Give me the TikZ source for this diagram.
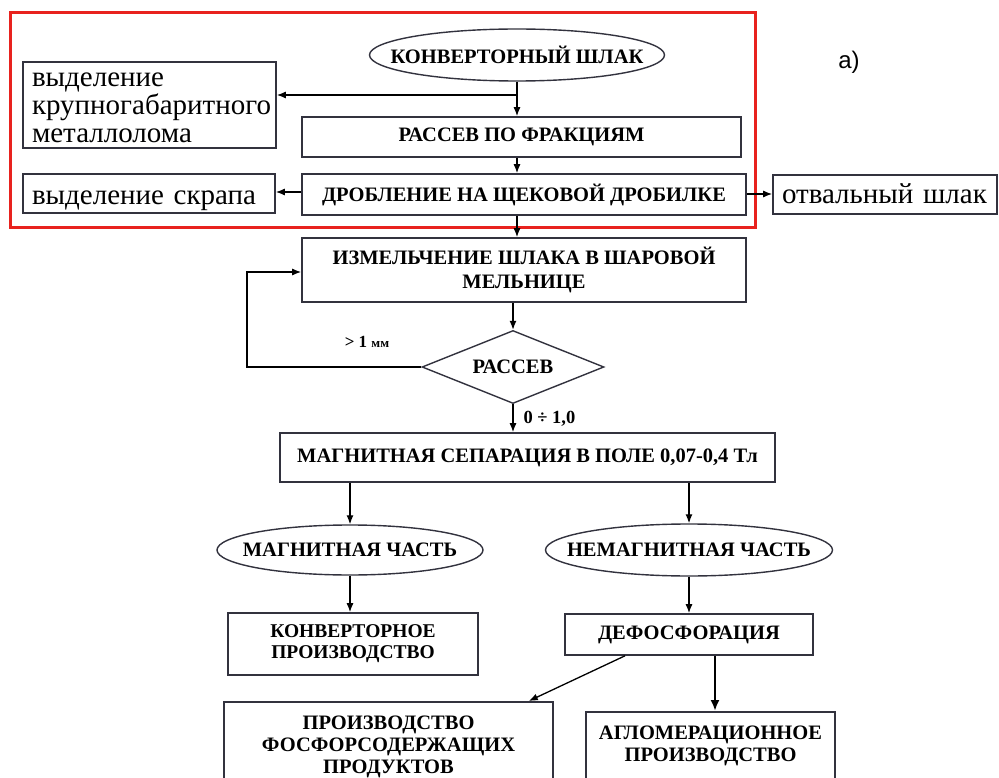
\documentclass[tikz,border=0pt]{standalone}
\usepackage{fontspec}
\setmainfont{Liberation Serif}
\newfontfamily\tagfont{Liberation Sans}
\usetikzlibrary{arrows.meta}
\usetikzlibrary{shapes.geometric}

\definecolor{framered}{RGB}{232,34,30}
\definecolor{edge}{RGB}{50,50,62}

\tikzset{
  box/.style={draw=edge, line width=1.6pt, inner sep=0pt, align=center,
    font=\fontsize{20.5}{22}\selectfont\bfseries},
  side/.style={draw=edge, line width=1.6pt, inner xsep=9pt, inner ysep=0pt, align=left,
    anchor=north, font=\fontsize{29}{28}\selectfont},
  oval/.style={ellipse, draw=edge, line width=1.4pt, inner xsep=-80pt, inner ysep=-10pt,
    font=\fontsize{20.5}{22}\selectfont\bfseries},
  arr/.style={line width=1.3pt, -{Latex[length=9pt,width=7pt]}},
  thickarr/.style={line width=2.2pt, -{Latex[length=11pt,width=9pt]}},
}

\begin{document}
\begin{tikzpicture}[x=1pt, y=-1pt]
    \useasboundingbox (0,0) rectangle (999,778);
    \clip (0,0) rectangle (999,778);

    % upper block
    \draw[framered, line width=3pt] (10,13) rectangle (755,228);
    \node[oval, minimum width=295pt, minimum height=52pt] (slag) at (517,55) {КОНВЕРТОРНЫЙ ШЛАК};
    \node[side, text width=235pt, text height=25pt, text depth=61pt] (metal) at (149.5,61) {выделение\\крупногабаритного\\металлолома};
    \node[box, minimum width=439pt, minimum height=40pt] (sieve) at (521.5,137) {РАССЕВ ПО ФРАКЦИЯМ};
    \node[box, minimum width=444pt, minimum height=41pt] (crush) at (524,194.5) {ДРОБЛЕНИЕ НА ЩЕКОВОЙ ДРОБИЛКЕ};
    \node[side, text width=234pt, text height=31pt, text depth=8pt] (scrap) at (149,173) {выделение скрапа};
    \node[side, text width=206pt, text height=29pt, text depth=10pt] (dump) at (885,174) {отвальный шлак};
    \node[font=\tagfont\fontsize{24}{24}\selectfont] (tag) at (849,62) {а)};

    \coordinate (fork) at (517,95);
    \draw[arr] (slag.south) -- (slag.south |- sieve.north);
    \draw[arr] (fork) -- (fork -| metal.east);
    \draw[arr] (sieve.south -| slag.south) -- (crush.north -| slag.south);
    \draw[arr] (crush.west |- 0,192) -- (scrap.east |- 0,192);
    \draw[arr] (crush.east |- 0,194) -- (dump.west |- 0,194);

    % milling and screening
    \node[box, minimum width=444pt, minimum height=64pt, font=\fontsize{20.5}{24}\selectfont\bfseries] (mill) at (524,270) {ИЗМЕЛЬЧЕНИЕ ШЛАКА В ШАРОВОЙ\\МЕЛЬНИЦЕ};
    \node[diamond, aspect=2.5, draw=edge, line width=1.4pt, inner sep=0pt, minimum width=182pt, minimum height=73pt,
      font=\fontsize{20.5}{22}\selectfont\bfseries] (screen) at (513,367) {РАССЕВ};
    \node[font=\bfseries] (coarse) at (367,342) {\fontsize{17}{17}\selectfont > 1 \fontsize{13}{13}\selectfont мм};
    \node[anchor=west, font=\fontsize{18.5}{18}\selectfont\bfseries] (fine) at (520,419) {0 ÷ 1,0};

    \coordinate (loop) at (247,272);
    \draw[arr] (crush.south -| slag.south) -- (mill.north -| slag.south);
    \draw[arr] (mill.south -| screen.north) -- (screen.north);
    \draw[arr] (screen.west) -| (loop) -- (mill.west |- loop);

    % separation
    \node[box, minimum width=495pt, minimum height=49pt] (magsep) at (527.5,457.5) {МАГНИТНАЯ СЕПАРАЦИЯ В ПОЛЕ 0,07-0,4 Тл};
    \node[oval, minimum width=266pt, minimum height=50pt] (mag) at (350,550) {МАГНИТНАЯ ЧАСТЬ};
    \node[oval, minimum width=287pt, minimum height=52pt] (nonmag) at (689,550) {НЕМАГНИТНАЯ ЧАСТЬ};
    \node[box, minimum width=250pt, minimum height=62pt, font=\fontsize{19.5}{21}\selectfont\bfseries] (conv) at (353,644) {КОНВЕРТОРНОЕ\\ПРОИЗВОДСТВО};
    \node[box, minimum width=248pt, minimum height=41pt] (dephos) at (689,634.5) {ДЕФОСФОРАЦИЯ};
    \node[box, anchor=north, text width=329pt, text height=28pt, text depth=90pt] (phos) at (388.5,701) {ПРОИЗВОДСТВО\\ФОСФОРСОДЕРЖАЩИХ\\ПРОДУКТОВ};
    \node[box, anchor=north, text width=249pt, text height=28pt, text depth=80pt] (aglo) at (710.5,711) {АГЛОМЕРАЦИОННОЕ\\ПРОИЗВОДСТВО};

    \coordinate (agloin) at (715,711);
    \draw[arr] (screen.south) -- (screen.south |- magsep.north);
    \draw[arr] (magsep.south -| mag.north) -- (mag.north);
    \draw[arr] (magsep.south -| nonmag.north) -- (nonmag.north);
    \draw[arr] (mag.south) -- (mag.south |- conv.north);
    \draw[arr] (nonmag.south) -- (dephos.north);
    \draw[arr] ([xshift=-64pt]dephos.south) -- ([xshift=-25pt]phos.north east);
    \draw[thickarr] (dephos.south -| agloin) -- (agloin);
\end{tikzpicture}
\end{document}
